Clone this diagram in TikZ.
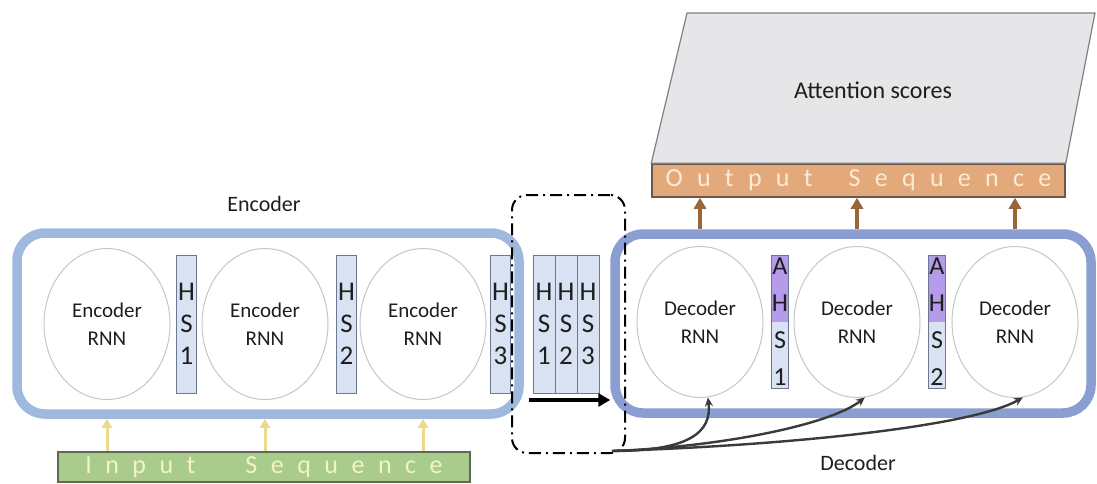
\documentclass[tikz,border=0pt]{standalone}
\usepackage{fontspec}
\setmainfont{Carlito}
\usetikzlibrary{shapes.geometric,arrows.meta}
\definecolor{encblue}{HTML}{9FB8DE}
\definecolor{decblue}{HTML}{8A9ED2}
\definecolor{hsfill}{HTML}{D9E2F3}
\definecolor{hsdraw}{HTML}{6A7894}
\definecolor{ahpurple}{HTML}{B59BEA}
\definecolor{ingreen}{HTML}{A9CC8C}
\definecolor{indraw}{HTML}{5E6A55}
\definecolor{intext}{HTML}{F3F2C8}
\definecolor{outorange}{HTML}{E3A97A}
\definecolor{outdraw}{HTML}{6B5A4C}
\definecolor{outtext}{HTML}{FBEAD6}
\definecolor{attgray}{HTML}{E6E6E8}
\definecolor{attdraw}{HTML}{7F7F86}
\definecolor{yarrow}{HTML}{EBD98C}
\definecolor{barrow}{HTML}{9A6638}
\definecolor{txt}{HTML}{1E1E1E}
\definecolor{curvecol}{HTML}{3A3A3A}
\newcommand\tkI{\hspace{13.5pt}}
\newcommand\tkO{\hspace{14.3pt}}
\begin{document}
\begin{tikzpicture}[x=1pt,y=-1pt,
  rnn/.style={ellipse, draw=gray!45, line width=1pt, minimum width=126pt, minimum height=151pt,
    inner sep=0pt, align=center, font=\fontsize{21}{28}\selectfont, text=txt},
  hsbox/.style={rectangle, draw=hsdraw, fill=hsfill, line width=1pt, minimum width=20pt,
    minimum height=138pt, inner sep=0pt, align=center, font=\fontsize{27}{32}\selectfont, text=txt},
  midhs/.style={hsbox, minimum width=22pt},
  ahsbox/.style={rectangle, draw=hsdraw, fill=hsfill, line width=1pt, minimum width=16pt,
    minimum height=133pt, inner sep=0pt, align=center, font=\fontsize{26}{37}\selectfont, text=txt,
    path picture={\fill[ahpurple] (path picture bounding box.north west) rectangle (path picture bounding box.east);}},
  bigbox/.style={rectangle, rounded corners=28pt, line width=9.5pt, inner sep=0pt},
  dashbox/.style={rectangle, rounded corners=15pt, draw=black, line width=2pt,
    dash pattern=on 12pt off 5pt on 2pt off 5pt, inner sep=0pt},
  seqbox/.style={rectangle, line width=1.5pt, inner sep=0pt, font=\fontsize{26}{30}\selectfont},
  lbl/.style={font=\fontsize{22}{26}\selectfont, text=txt, inner sep=0pt},
  yarr/.style={draw=yarrow, line width=3pt, -{Triangle[length=9pt,width=10pt]}},
  barr/.style={draw=barrow, line width=3.5pt, -{Triangle[length=11pt,width=12pt]}},
  karr/.style={draw=black, line width=4pt, -{Triangle[length=12pt,width=13pt]}},
  carr/.style={draw=curvecol, line width=2.4pt, -{Stealth[length=9pt,width=8pt]}}
]
\useasboundingbox (0,0) rectangle (1097,483);

% attention parallelogram and output sequence
\node[seqbox, draw=outdraw, fill=outorange, minimum width=413pt, minimum height=33pt, text=outtext]
  (out) at (858.5,180.5) {O\tkO u\tkO t\tkO p\tkO u\tkO t\hspace{36pt}S\tkO e\tkO q\tkO u\tkO e\tkO n\tkO c\tkO e};
\coordinate (attTR) at (1095,13);
\coordinate (attTL) at (687,13);
\draw[draw=attdraw, fill=attgray, line width=1.2pt] (out.north west) -- (out.north east) -- (attTR) -- (attTL) -- cycle;
\node[lbl, font=\fontsize{24}{28}\selectfont] (att) at (873,90) {Attention scores};

% encoder
\node[bigbox, draw=encblue, minimum width=502pt, minimum height=181pt] (enc) at (268,323.5) {};
\node[rnn] (e1) at (107,324) {Encoder\\RNN};
\node[rnn] (e2) at (265,324) {Encoder\\RNN};
\node[rnn] (e3) at (423,324) {Encoder\\RNN};
\node[hsbox] (h1) at (186.5,324) {H\\S\\1};
\node[hsbox] (h2) at (346.5,324) {H\\S\\2};
\node[hsbox] (h3) at (500.5,324) {H\\S\\3};
\node[lbl] (enclbl) at (264,204) {Encoder};

% input sequence
\node[seqbox, draw=indraw, fill=ingreen, minimum width=412pt, minimum height=30pt, text=intext]
  (inp) at (264,467) {I\tkI n\tkI p\tkI u\tkI t\hspace{50pt}S\tkI e\tkI q\tkI u\tkI e\tkI n\tkI c\tkI e};
\draw[yarr] (inp.north -| e1) -- (enc.south -| e1);
\draw[yarr] (inp.north -| e2) -- (enc.south -| e2);
\draw[yarr] (inp.north -| e3) -- (enc.south -| e3);

% decoder
\node[bigbox, draw=decblue, minimum width=476pt, minimum height=179pt] (dec) at (853,323.5) {};
\node[rnn] (d1) at (700,322) {Decoder\\RNN};
\node[rnn] (d2) at (857,322) {Decoder\\RNN};
\node[rnn] (d3) at (1015,322) {Decoder\\RNN};
\node[ahsbox] (a1) at (780,321.5) {A\\H\\S\\1};
\node[ahsbox] (a2) at (937,321.5) {A\\H\\S\\2};
\node[lbl] (declbl) at (858,463) {Decoder};

\draw[barr] (dec.north -| d1) -- (out.south -| d1);
\draw[barr] (dec.north -| d2) -- (out.south -| d2);
\draw[barr] (dec.north -| d3) -- (out.south -| d3);

% middle hidden states
\node[midhs] (m1) at (544,324) {H\\S\\1};
\node[midhs] (m2) at (566,324) {H\\S\\2};
\node[midhs] (m3) at (588,324) {H\\S\\3};
\coordinate (kstart) at (529,400);
\draw[karr] (kstart) -- (dec.west |- kstart);

% dash-dot context box
\node[dashbox, minimum width=113pt, minimum height=258pt] (ctx) at (568.5,324) {};

% curved arrows to decoder RNNs
\coordinate (src) at (612,451);
\draw[carr] (src) .. controls (690,451) and (712,432) .. (d1.-84);
\draw[carr] (src) .. controls (720,447) and (830,425) .. (d2.-84);
\draw[carr] (src) .. controls (800,445) and (975,425) .. (d3.-84);
\end{tikzpicture}
\end{document}
